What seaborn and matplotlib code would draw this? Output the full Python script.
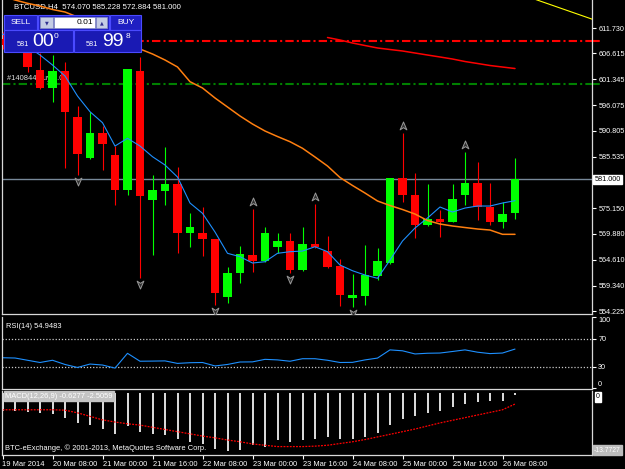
import numpy as np
import matplotlib
matplotlib.use("Agg")
import matplotlib.pyplot as plt
import matplotlib.transforms as mtransforms
from matplotlib.patches import Rectangle
from matplotlib.path import Path
import seaborn as sns

# ---- valores (BTCUSD H4) ----
bar_idx = list(range(42))
opens = [609.5, 608.5, 607.6, 603.20, 599.48, 602.99, 593.58, 585.25, 590.33, 585.92,
         578.81, 602.99, 576.78, 578.67, 579.97, 570.01, 570.01, 568.79, 557.13, 561.88,
         565.60, 564.38, 567.29, 568.45, 562.55, 567.84, 566.41, 563.37, 556.93, 557.27,
         561.34, 563.92, 581.19, 577.80, 571.70, 572.92, 572.37, 577.80, 580.17, 575.42,
         572.37, 574.07]
highs = [611.0, 609.8, 608.5, 606.65, 606.24, 604.88, 595.88, 594.60, 591.82, 587.75,
         603.5, 605.90, 581.86, 587.61, 583.55, 574.08, 575.30, 568.9, 563.10, 567.43,
         574.89, 571.23, 570.01, 570.01, 571.23, 575.97, 569.46, 564.73, 561.68, 567.63,
         566.96, 581.3, 590.33, 582.33, 579.97, 574.75, 579.97, 586.60, 584.44, 580.17,
         576.43, 585.228]
lows = [607.5, 607.0, 602.79, 599.34, 596.75, 583.34, 581.86, 585.1, 582.88, 575.76,
        577.80, 560.87, 565.60, 575.76, 565.95, 567.29, 565.40, 555.44, 555.79, 559.85,
        562.21, 564.2, 565.95, 562.00, 562.41, 567.1, 562.9, 555.24, 555.10, 555.44,
        560.52, 563.8, 576.43, 568.99, 571.6, 569.20, 572.3, 575.76, 572.71, 571.70,
        571.03, 572.884]
closes = [608.2, 607.6, 603.81, 599.48, 602.99, 594.60, 586.13, 590.33, 588.10, 578.81,
          603.40, 577.65, 578.81, 579.97, 570.01, 571.35, 568.79, 557.82, 561.88, 565.81,
          564.38, 570.01, 568.45, 562.55, 567.84, 567.29, 563.10, 557.47, 557.47, 561.54,
          564.38, 581.19, 577.80, 571.70, 572.86, 572.37, 576.92, 580.17, 575.30, 572.37,
          573.94, 581.000]

ma_rapida = [610.5, 609.5, 608.0, 606.24, 604.21, 601.98, 597.91, 594.72, 592.49, 587.75,
             589.32, 587.75, 585.58, 583.89, 581.45, 576.17, 574.08, 570.28, 565.95, 565.26,
             563.98, 564.24, 565.95, 566.28, 566.41, 567.29, 566.28, 563.57, 562.41, 561.54,
             560.87, 564.58, 568.45, 571.09, 573.12, 575.36, 574.34, 575.15, 575.56, 575.56,
             576.17, 576.64]
ma_media = [618.23, 617.42, 616.75, 616.2, 615.49, 614.98, 613.97, 612.64, 611.32, 610.0,
            608.68, 607.46, 606.45, 605.23, 603.81, 600.82, 599.54, 597.51, 595.68, 593.85,
            592.22, 590.80, 589.68, 588.63, 587.29, 585.52, 583.69, 581.35, 579.73, 578.20,
            576.58, 575.66, 574.85, 573.93, 572.61, 571.90, 571.50, 571.19, 570.89, 570.68,
            569.81, 569.81]
ma_lenta_idx = list(range(26, 42))
ma_lenta = [609.8, 609.29, 608.68, 608.17, 607.67, 607.36, 607.06, 606.65, 606.24, 605.84,
            605.43, 604.92, 604.52, 604.11, 603.8, 603.5]
linea_amarilla_idx = [42.0, 47.2]
linea_amarilla = [618.1, 613.5]

rsi = [42.6, 42.2, 39.0, 35.8, 39.0, 33.0, 28.7, 33.6, 32.2, 27.8, 48.9, 37.6, 37.8, 38.1,
       34.5, 35.5, 35.8, 30.9, 33.0, 36.5, 36.7, 40.3, 39.5, 37.6, 41.2, 41.2, 39.0, 35.8,
       36.0, 39.5, 42.1, 53.8, 52.5, 48.0, 49.0, 49.3, 51.5, 53.8, 50.5, 48.5, 49.3, 54.95]
macd = [-4.2, -4.25, -4.47, -4.61, -4.76, -5.71, -6.96, -7.40, -8.28, -9.38, -7.69, -9.01,
        -9.38, -9.6, -10.47, -11.2, -11.8, -12.9, -13.26, -13.1, -11.94, -12.3, -10.84,
        -11.2, -10.84, -10.47, -10.2, -10.62, -10.47, -10.2, -9.3, -7.3, -6.0, -5.3, -4.6,
        -4.1, -3.3, -2.5, -2.05, -2.0, -1.9, -0.63]
macd_senal = [-3.9, -3.9, -3.9, -3.9, -3.9, -4.0, -4.6, -5.4, -6.2, -6.7, -7.1, -7.4, -7.9,
              -8.4, -8.9, -9.4, -9.9, -10.3, -10.8, -11.2, -11.7, -12.0, -12.3, -12.3, -12.3,
              -12.2, -12.0, -11.6, -11.2, -10.7, -10.1, -9.5, -8.9, -8.3, -7.6, -6.9, -6.3,
              -5.7, -5.1, -4.5, -3.9, -2.6]

fractal_arriba = [20, 25, 32, 37]
fractal_abajo = [6, 11, 17, 23, 28]

bid = 581.000
nivel_orden = 600.45
nivel_tp = 609.10

precios_eje = [611.730, 606.615, 601.345, 596.075, 590.805, 585.535,
               575.150, 569.880, 564.610, 559.340, 554.225]
etiquetas_tiempo = ["19 Mar 2014", "20 Mar 08:00", "21 Mar 00:00", "21 Mar 16:00",
                    "22 Mar 08:00", "23 Mar 00:00", "23 Mar 16:00", "24 Mar 08:00",
                    "25 Mar 00:00", "25 Mar 16:00", "26 Mar 08:00"]
idx_tiempo = [0, 4, 8, 12, 16, 20, 24, 28, 32, 36, 40]

# ---- estilo ----
sns.set_theme(style="dark", rc={"axes.facecolor": "black", "figure.facecolor": "black"})
plt.rcParams["font.family"] = ["Liberation Sans", "DejaVu Sans"]

W, H = 625, 469


def pane(x0, y0, x1, y1):
    return [x0 / W, 1 - y1 / H, (x1 - x0) / W, (y1 - y0) / H]


fig = plt.figure(figsize=(W / 100, H / 100), dpi=100)
fig.patch.set_facecolor("black")
ax = fig.add_axes(pane(2, 0, 592, 314))
ax_rsi = fig.add_axes(pane(2, 317, 592, 389))
ax_macd = fig.add_axes(pane(2, 391, 592, 455))
ov = fig.add_axes([0, 0, 1, 1], zorder=5)
ov.set_xlim(0, W)
ov.set_ylim(H, 0)
ov.axis("off")
ov.patch.set_alpha(0)

xlim = (-0.04, 47.16)
for a in (ax, ax_rsi, ax_macd):
    a.set_facecolor("black")
    a.set_xlim(*xlim)
    a.grid(False)
    for s in a.spines.values():
        s.set_color("#d8d8d8")
        s.set_linewidth(0.9)
    a.spines["top"].set_visible(False)
    a.tick_params(axis="x", bottom=False, labelbottom=False)
    a.yaxis.tick_right()
    a.tick_params(axis="y", colors="white", length=3, width=0.8, labelsize=5.2, pad=1.5,
                  right=True, left=False, labelright=True, labelleft=False)
    a.set_xlabel("")
    a.set_ylabel("")

# ---- panel principal ----
ax.set_ylim(553.62, 617.42)
ax.set_yticks(precios_eje)
ax.set_yticklabels([f"{p:.3f}" for p in precios_eje])

o = np.array(opens)
c = np.array(closes)
colores = np.where(c >= o, "#00ff00", "#ff0000")
cuerpo_bajo = np.minimum(o, c)
cuerpo_alto = np.maximum(np.abs(c - o), 0.25)
ax.vlines(bar_idx, lows, highs, colors=colores, lw=0.8, zorder=3)
ax.bar(bar_idx, cuerpo_alto, bottom=cuerpo_bajo, width=0.68, color=colores, lw=0, zorder=4)

ax.axhline(bid, color="#778899", lw=1.0, zorder=2)
ax.axhline(nivel_tp, color="#ff0000", lw=1.5, ls=(0, (4, 1.5, 1, 1.5)), zorder=2)
ax.axhline(nivel_orden, color="#008000", lw=1.5, ls=(0, (4, 1.5, 1, 1.5)), zorder=2)

sns.lineplot(x=bar_idx, y=ma_rapida, ax=ax, color="#1e90ff", linewidth=0.8, zorder=5)
sns.lineplot(x=bar_idx, y=ma_media, ax=ax, color="#ff7f10", linewidth=1.1, zorder=5)
sns.lineplot(x=ma_lenta_idx, y=ma_lenta, ax=ax, color="#ff0000", linewidth=1.1, zorder=5)
sns.lineplot(x=linea_amarilla_idx, y=linea_amarilla, ax=ax, color="#ffff00", linewidth=0.8, zorder=5)

# fractales
flecha = Path([(0, 1), (0.75, -0.75), (0, -0.25), (-0.75, -0.75), (0, 1)],
              [Path.MOVETO, Path.LINETO, Path.LINETO, Path.LINETO, Path.CLOSEPOLY])
flecha_abajo = Path([(0, -1), (0.75, 0.75), (0, 0.25), (-0.75, 0.75), (0, -1)],
                    [Path.MOVETO, Path.LINETO, Path.LINETO, Path.LINETO, Path.CLOSEPOLY])
t_arriba = mtransforms.offset_copy(ax.transData, fig=fig, y=7, units="dots")
t_abajo = mtransforms.offset_copy(ax.transData, fig=fig, y=-6, units="dots")
ax.plot(fractal_arriba, [highs[i] for i in fractal_arriba], ls="none", marker=flecha,
        ms=6.5, mfc="#303030", mec="#9a9a9a", mew=0.7, transform=t_arriba, zorder=6)
ax.plot(fractal_abajo, [lows[i] for i in fractal_abajo], ls="none", marker=flecha_abajo,
        ms=6.5, mfc="#303030", mec="#9a9a9a", mew=0.7, transform=t_abajo, zorder=6)

ax.text(7, 79, "#140844 buy 0.01", transform=ov.transData, color="#e0e0e0",
        fontsize=5.4, va="center", ha="left", zorder=1)
ax.text(14, 6.5, "BTCUSD,H4  574.070 585.228 572.884 581.000", transform=ov.transData,
        color="white", fontsize=5.6, va="center", ha="left", zorder=1)

mezcla = mtransforms.blended_transform_factory(ax.transAxes, ax.transData)
ax.text(1.004, bid, f"{bid:.3f}", transform=mezcla, color="black", fontsize=5.2,
        va="center", ha="left", zorder=7,
        bbox=dict(boxstyle="square,pad=0.15", fc="white", ec="white"))
ax.plot([1.0, 1.012], [nivel_tp, nivel_tp], color="#ff0000", lw=1.5, transform=mezcla, clip_on=False)
ax.plot([1.0, 1.012], [nivel_orden, nivel_orden], color="#008000", lw=1.5, transform=mezcla, clip_on=False)

# ---- RSI ----
ax_rsi.set_ylim(-2.0, 100.7)
ax_rsi.set_yticks([0, 30, 70, 100])
ax_rsi.set_yticklabels(["0", "30", "70", "100"])
lbls = ax_rsi.get_yticklabels()
lbls[0].set_va("bottom")
lbls[-1].set_va("top")
for nivel in (30, 70):
    ax_rsi.axhline(nivel, color="#c8c8c8", lw=0.9, ls=(0, (1, 1.5)))
sns.lineplot(x=bar_idx, y=rsi, ax=ax_rsi, color="#1e90ff", linewidth=0.8)
ax_rsi.text(0.006, 0.92, "RSI(14) 54.9483", transform=ax_rsi.transAxes, color="white",
            fontsize=5.4, va="top", ha="left")

# ---- MACD ----
ax_macd.set_ylim(-14.22, 0.38)
ax_macd.set_yticks([])
ax_macd.bar(bar_idx, macd, width=0.16, color="#d8d8d8", lw=0)
sns.lineplot(x=bar_idx, y=macd_senal, ax=ax_macd, color="#ff0000", linewidth=0.9,
             linestyle=(0, (1.5, 1)))
ax_macd.text(5, 396, "MACD(12,26,9) -0.6277 -2.5059", transform=ov.transData, color="white",
             fontsize=5.4, va="center", ha="left",
             bbox=dict(boxstyle="square,pad=0.2", fc="#c4c4c4", ec="#c4c4c4"))
ax_macd.text(5, 448, "BTC-eExchange, \u00a9 2001-2013, MetaQuotes Software Corp.",
             transform=ov.transData, color="white", fontsize=5.4, va="center", ha="left")
ax_macd.text(596, 397, "0", transform=ov.transData, color="black", fontsize=5, va="center",
             ha="left", bbox=dict(boxstyle="square,pad=0.15", fc="white", ec="white"), clip_on=False)
ax_macd.text(594, 450, "-13.7727", transform=ov.transData, color="white", fontsize=4.9,
             va="center", ha="left", clip_on=False,
             bbox=dict(boxstyle="square,pad=0.15", fc="#bcbcbc", ec="#bcbcbc"))

ax_macd.set_xticks(idx_tiempo)
ax_macd.set_xticklabels(etiquetas_tiempo, ha="left")
ax_macd.tick_params(axis="x", bottom=True, labelbottom=True, colors="white", length=3,
                    width=0.8, labelsize=5.4, pad=1.5)

# ---- panel de trading en un clic ----
def caja(x0, y0, x1, y1, fc, ec="#4a4aff", lw=0.8):
    ov.add_patch(Rectangle((x0, y0), x1 - x0, y1 - y0, fc=fc, ec=ec, lw=lw))


azul = "#1f1fc2"
caja(4, 15, 37, 30, azul)
caja(38, 15, 109, 30, azul)
caja(110, 15, 141, 30, azul)
caja(4, 30, 73, 52, "#1a1ab4")
caja(74, 30, 141, 52, "#1a1ab4")
caja(40, 17, 53, 28, "#c4cce4", ec="#8890c0", lw=0.5)
caja(96, 17, 107, 28, "#c4cce4", ec="#8890c0", lw=0.5)
caja(54, 17, 95, 28, "white", ec="#8890c0", lw=0.5)

ov.text(20.5, 22.5, "SELL", color="white", fontsize=6, ha="center", va="center")
ov.text(125.5, 22.5, "BUY", color="white", fontsize=6, ha="center", va="center")
ov.text(93, 22.5, "0.01", color="black", fontsize=6, ha="right", va="center")
ov.text(46.5, 22.5, "\u25bc", color="#303090", fontsize=3.5, ha="center", va="center",
        family="DejaVu Sans")
ov.text(101.5, 22.5, "\u25b2", color="#303090", fontsize=3.5, ha="center", va="center",
        family="DejaVu Sans")
ov.text(22.5, 44, "581", color="white", fontsize=5.2, ha="center", va="center")
ov.text(43.5, 41.5, "00", color="white", fontsize=14, ha="center", va="center")
ov.text(56.5, 36, "0", color="white", fontsize=6, ha="center", va="center")
ov.text(92, 44, "581", color="white", fontsize=5.2, ha="center", va="center")
ov.text(113, 41.5, "99", color="white", fontsize=14, ha="center", va="center")
ov.text(128, 36, "8", color="white", fontsize=6, ha="center", va="center")

fig.savefig("out.png", dpi=100, facecolor="black")
